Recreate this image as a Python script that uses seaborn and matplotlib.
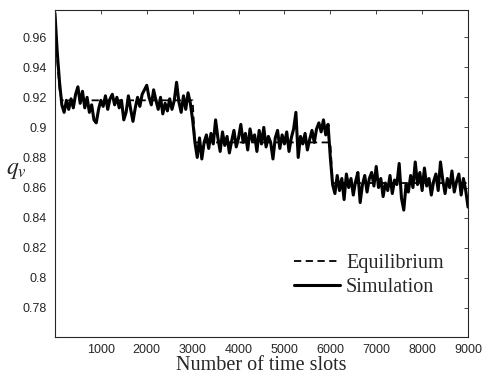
import numpy as np
import pandas as pd
import matplotlib
matplotlib.use('Agg')
import matplotlib.pyplot as plt
import seaborn as sns

# values
slots = list(range(0, 9001, 50))
simulation = [
    0.976, 0.950, 0.930, 0.915, 0.910, 0.918, 0.912, 0.919, 0.913, 0.922,
    0.927, 0.916, 0.924, 0.913, 0.920, 0.910, 0.915, 0.905, 0.903, 0.912,
    0.918, 0.914, 0.921, 0.912, 0.919, 0.922, 0.915, 0.920, 0.913, 0.918,
    0.905, 0.910, 0.921, 0.912, 0.904, 0.913, 0.920, 0.914, 0.922, 0.925,
    0.928, 0.920, 0.915, 0.925, 0.918, 0.912, 0.920, 0.909, 0.916, 0.911,
    0.919, 0.912, 0.918, 0.930, 0.917, 0.910, 0.921, 0.912, 0.923, 0.916,
    0.905, 0.890, 0.880, 0.893, 0.879, 0.890, 0.895, 0.886, 0.896, 0.889,
    0.905, 0.893, 0.884, 0.897, 0.888, 0.894, 0.883, 0.891, 0.898, 0.887,
    0.893, 0.902, 0.890, 0.896, 0.885, 0.899, 0.891, 0.895, 0.884, 0.898,
    0.889, 0.900, 0.887, 0.894, 0.890, 0.879, 0.893, 0.898, 0.886, 0.895,
    0.889, 0.897, 0.884, 0.893, 0.899, 0.910, 0.880, 0.894, 0.889, 0.896,
    0.885, 0.892, 0.898, 0.890, 0.899, 0.903, 0.897, 0.905, 0.895, 0.902,
    0.880, 0.862, 0.856, 0.868, 0.858, 0.866, 0.852, 0.869, 0.860, 0.866,
    0.855, 0.864, 0.870, 0.850, 0.862, 0.868, 0.857, 0.866, 0.870, 0.861,
    0.874, 0.860, 0.866, 0.854, 0.863, 0.858, 0.868, 0.856, 0.865, 0.862,
    0.876, 0.853, 0.845, 0.862, 0.857, 0.868, 0.860, 0.877, 0.862, 0.870,
    0.858, 0.873, 0.861, 0.866, 0.855, 0.864, 0.869, 0.858, 0.877, 0.865,
    0.856, 0.866, 0.860, 0.871, 0.857, 0.864, 0.869, 0.855, 0.866, 0.858,
    0.847,
]
eq_slots = [0, 50, 100, 150, 3000, 3050, 6000, 6050, 9000]
equilibrium = [0.976, 0.945, 0.925, 0.918, 0.918, 0.890, 0.890, 0.863, 0.863]

xticks = [1000, 2000, 3000, 4000, 5000, 6000, 7000, 8000, 9000]
yticks = [0.78, 0.80, 0.82, 0.84, 0.86, 0.88, 0.90, 0.92, 0.94, 0.96]

sim_df = pd.DataFrame({'slot': slots, 'q': simulation})
eq_df = pd.DataFrame({'slot': eq_slots, 'q': equilibrium})

sns.set_style('white')
plt.rcParams['font.family'] = ['Liberation Sans', 'DejaVu Sans']
plt.rcParams['mathtext.fontset'] = 'stix'

fig = plt.figure(figsize=(4.82, 3.75), dpi=100)
ax = fig.add_axes([0.114, 0.101, 0.857, 0.872])

sns.lineplot(data=sim_df, x='slot', y='q', ax=ax, color='black', linewidth=2.2,
             label='Simulation')
sns.lineplot(data=eq_df, x='slot', y='q', ax=ax, color='black', linewidth=1.3,
             linestyle=(0, (4, 2.5)), label='Equilibrium')

ax.set_xlim(0, 9000)
ax.set_ylim(0.7605, 0.978)
ax.set_xticks(xticks)
ax.set_xticklabels([str(t) for t in xticks])
ax.set_yticks(yticks)
ax.set_yticklabels([('%.2f' % t).rstrip('0') for t in yticks])
ax.tick_params(direction='in', top=True, right=True, labelsize=9, length=3,
               width=0.6, colors='#262626', pad=6)
ax.tick_params(axis='x', pad=5)
for s in ax.spines.values():
    s.set_linewidth(0.8)
    s.set_color('#262626')

ax.set_xlabel('Number of time slots', family='Liberation Serif', fontsize=14.5,
              labelpad=0)
ax.set_ylabel('$q_v$', fontsize=17, rotation=0, va='center', ha='center')
ax.yaxis.set_label_coords(-0.094, 0.51)

h, l = ax.get_legend_handles_labels()
ax.legend(h[::-1], l[::-1], loc='lower right', bbox_to_anchor=(0.985, 0.067),
          frameon=False, prop={'family': 'Liberation Serif', 'size': 14.5},
          handlelength=2.3, handletextpad=0.3, labelspacing=0.25)

fig.savefig('out.png', dpi=100)
